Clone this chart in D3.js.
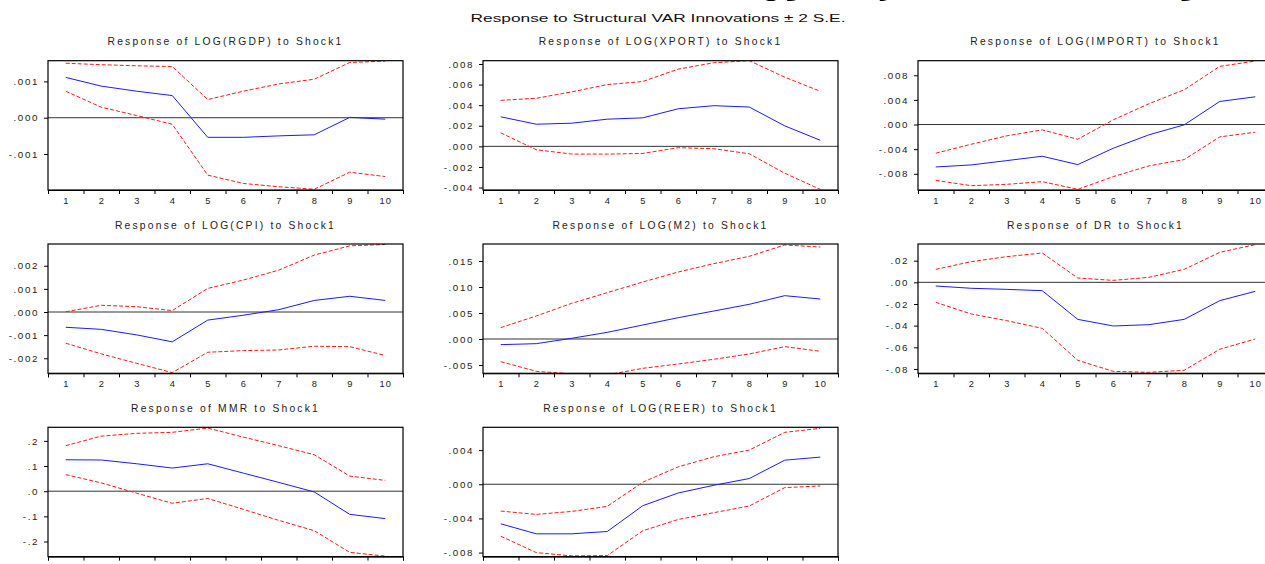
<!DOCTYPE html>
<html><head><meta charset="utf-8">
<script src="https://cdn.jsdelivr.net/npm/d3@7"></script>
<style>
body{margin:0;background:#fff;overflow:hidden}
text{font-family:"Liberation Sans",Arial,sans-serif}
</style>
</head><body><svg id="c" width="1265" height="564"></svg>
<script>
// ---- data ----
const periods = [1,2,3,4,5,6,7,8,9,10];
const periodLabels = ["1","2","3","4","5","6","7","8","9","10"];

const rgdpResp  = [0.00111,0.00087,0.00073,0.00061,-0.00054,-0.00054,-0.00050,-0.00047,0.00001,-0.00004];
const rgdpUpper = [0.00150,0.00146,0.00143,0.00141,0.00050,0.00073,0.00093,0.00106,0.00152,0.00156];
const rgdpLower = [0.00073,0.00029,0.00006,-0.00018,-0.00158,-0.00181,-0.00190,-0.00197,-0.00150,-0.00162];
const rgdpTicks = [0.001,0,-0.001];
const rgdpTickLabels = [".001",".000","-.001"];

const xportResp  = [0.00287,0.00215,0.00225,0.00264,0.00277,0.00365,0.00395,0.00382,0.00199,0.00059];
const xportUpper = [0.00447,0.00467,0.00529,0.00600,0.00630,0.00750,0.00812,0.00832,0.00672,0.00535];
const xportLower = [0.00131,-0.00033,-0.00075,-0.00075,-0.00069,-0.00013,-0.00023,-0.00072,-0.00261,-0.00418];
const xportTicks = [0.008,0.006,0.004,0.002,0,-0.002,-0.004];
const xportTickLabels = [".008",".006",".004",".002",".000","-.002","-.004"];

const importResp  = [-0.00689,-0.00656,-0.00586,-0.00515,-0.00651,-0.00385,-0.00168,-0.00005,0.00374,0.00450];
const importUpper = [-0.00466,-0.00320,-0.00184,-0.00087,-0.00239,0.00076,0.00336,0.00564,0.00944,0.01030];
const importLower = [-0.00906,-0.00993,-0.00971,-0.00927,-0.01052,-0.00846,-0.00672,-0.00569,-0.00201,-0.00125];
const importTicks = [0.008,0.004,0,-0.004,-0.008];
const importTickLabels = [".008",".004",".000","-.004","-.008"];

const cpiResp  = [-0.00066,-0.00075,-0.00099,-0.00129,-0.00035,-0.00014,0.00010,0.00050,0.00068,0.00050];
const cpiUpper = [0.00001,0.00029,0.00023,0.00006,0.00102,0.00138,0.00181,0.00246,0.00286,0.00292];
const cpiLower = [-0.00135,-0.00181,-0.00222,-0.00262,-0.00174,-0.00167,-0.00164,-0.00148,-0.00150,-0.00188];
const cpiTicks = [0.002,0.001,0,-0.001,-0.002];
const cpiTickLabels = [".002",".001",".000","-.001","-.002"];

const m2Resp  = [-0.00109,-0.00090,0.00013,0.00128,0.00269,0.00410,0.00538,0.00667,0.00833,0.00769];
const m2Upper = [0.00218,0.00442,0.00686,0.00891,0.01096,0.01288,0.01449,0.01590,0.01808,0.01769];
const m2Lower = [-0.00436,-0.00622,-0.00670,-0.00690,-0.00564,-0.00481,-0.00391,-0.00288,-0.00147,-0.00237];
const m2Ticks = [0.015,0.010,0.005,0,-0.005];
const m2TickLabels = [".015",".010",".005",".000","-.005"];

const drResp  = [-0.0034,-0.0055,-0.0065,-0.0077,-0.0342,-0.0403,-0.0391,-0.0342,-0.0169,-0.0083];
const drUpper = [0.0120,0.0191,0.0237,0.0271,0.0040,0.0018,0.0046,0.0120,0.0277,0.0348];
const drLower = [-0.0185,-0.0292,-0.0354,-0.0425,-0.0720,-0.0822,-0.0831,-0.0812,-0.0618,-0.0523];
const drTicks = [0.02,0,-0.02,-0.04,-0.06,-0.08];
const drTickLabels = [".02",".00","-.02","-.04","-.06","-.08"];

const mmrResp  = [0.125,0.124,0.109,0.092,0.109,0.072,0.035,-0.003,-0.092,-0.109];
const mmrUpper = [0.181,0.219,0.230,0.234,0.251,0.215,0.181,0.145,0.060,0.043];
const mmrLower = [0.066,0.033,-0.008,-0.048,-0.029,-0.072,-0.116,-0.157,-0.243,-0.258];
const mmrTicks = [0.2,0.1,0,-0.1,-0.2];
const mmrTickLabels = [".2",".1",".0","-.1","-.2"];

const reerResp  = [-0.00463,-0.00580,-0.00580,-0.00553,-0.00251,-0.00102,-0.00012,0.00067,0.00282,0.00318];
const reerUpper = [-0.00314,-0.00353,-0.00318,-0.00259,0.00024,0.00204,0.00322,0.00400,0.00608,0.00655];
const reerLower = [-0.00608,-0.00800,-0.00839,-0.00835,-0.00545,-0.00412,-0.00333,-0.00255,-0.00039,-0.00020];
const reerTicks = [0.004,0,-0.004,-0.008];
const reerTickLabels = [".004",".000","-.004","-.008"];

const titles = [
  "Response of LOG(RGDP) to Shock1","Response of LOG(XPORT) to Shock1","Response of LOG(IMPORT) to Shock1",
  "Response of LOG(CPI) to Shock1","Response of LOG(M2) to Shock1","Response of DR to Shock1",
  "Response of MMR to Shock1","Response of LOG(REER) to Shock1"
];
const yRanges = [
  [-0.00199,0.00157],[-0.00424,0.00832],[-0.01063,0.01036],
  [-0.00265,0.00294],[-0.0066,0.01827],[-0.0840,0.0354],
  [-0.260,0.254],[-0.00847,0.00667]
];
const mainTitle = "Response to Structural VAR Innovations \u00B1 2 S.E.";
const arabicTitle = "الشكل (SVAR) : دوال الاستجابة النبضية لمتغيرات النموذج";

const panels = [
  {resp:rgdpResp, up:rgdpUpper, lo:rgdpLower, ticks:rgdpTicks, labels:rgdpTickLabels},
  {resp:xportResp, up:xportUpper, lo:xportLower, ticks:xportTicks, labels:xportTickLabels},
  {resp:importResp, up:importUpper, lo:importLower, ticks:importTicks, labels:importTickLabels},
  {resp:cpiResp, up:cpiUpper, lo:cpiLower, ticks:cpiTicks, labels:cpiTickLabels},
  {resp:m2Resp, up:m2Upper, lo:m2Lower, ticks:m2Ticks, labels:m2TickLabels},
  {resp:drResp, up:drUpper, lo:drLower, ticks:drTicks, labels:drTickLabels},
  {resp:mmrResp, up:mmrUpper, lo:mmrLower, ticks:mmrTicks, labels:mmrTickLabels},
  {resp:reerResp, up:reerUpper, lo:reerLower, ticks:reerTicks, labels:reerTickLabels}
];

// ---- layout ----
const svg = d3.select("#c");
const W = 355, H = 129.3;
const lefts = [48, 483, 918];
const tops = [60.7, 244, 427.3];

// large title above, cut off by the top edge in the reference (only descenders peek in)
svg.append("text").attr("x", 888).attr("y", -5).attr("text-anchor","middle")
  .attr("font-size", 24).attr("font-weight","bold").attr("fill","#000")
  .attr("textLength", 640).attr("lengthAdjust","spacingAndGlyphs")
  .style("font-family","'DejaVu Sans',sans-serif").text(arabicTitle);

svg.append("text").attr("x", 658).attr("y", 22).attr("text-anchor","middle")
  .attr("font-size", 11.5).attr("fill","#111").attr("textLength", 375).attr("lengthAdjust","spacingAndGlyphs")
  .text(mainTitle);

const periodTicks = d3.range(0.5, 11, 1);

panels.forEach((p, i) => {
  const row = Math.floor(i / 3);
  const x0 = lefts[i % 3], y0 = tops[row];
  const g = svg.append("g").attr("transform", `translate(${x0},${y0})`);
  const x = d3.scaleLinear().domain([0.5, 10.5]).range([0, W]);
  const y = d3.scaleLinear().domain(yRanges[i]).range([H, 0]);

  g.append("text").attr("x", W / 2).attr("y", -15.5).attr("text-anchor","middle")
    .attr("font-size", 10.3).attr("letter-spacing", 2.2).attr("fill","#222").text(titles[i]);

  const cid = "clip" + i;
  g.append("clipPath").attr("id", cid).append("rect").attr("width", W).attr("height", H);
  const plot = g.append("g").attr("clip-path", `url(#${cid})`);

  plot.append("line").attr("x1", 0).attr("x2", W).attr("y1", y(0)).attr("y2", y(0))
    .attr("stroke", "#333").attr("stroke-width", 1);

  const line = d3.line().x((d, j) => x(periods[j])).y(d => y(d));
  plot.append("path").datum(p.up).attr("d", line).attr("fill","none")
    .attr("stroke","#ff1a1a").attr("stroke-width",1).attr("stroke-dasharray","4,2");
  plot.append("path").datum(p.lo).attr("d", line).attr("fill","none")
    .attr("stroke","#ff1a1a").attr("stroke-width",1).attr("stroke-dasharray","4,2");
  plot.append("path").datum(p.resp).attr("d", line).attr("fill","none")
    .attr("stroke","#1a1aff").attr("stroke-width",1);

  g.append("rect").attr("width", W).attr("height", H).attr("fill","none")
    .attr("stroke","#000").attr("stroke-width",1.2);

  // y axis
  const ya = g.append("g").call(d3.axisLeft(y).tickValues(p.ticks)
    .tickFormat((d, j) => p.labels[j]).tickSize(4).tickPadding(5));
  ya.select(".domain").remove();
  ya.selectAll("line").attr("stroke","#000");
  ya.selectAll("text").attr("font-size", 9.8).attr("letter-spacing", 1.6).attr("fill","#222")
    .style("font-family","'Liberation Sans',Arial,sans-serif");

  // x axis ticks at band boundaries
  const xa = g.append("g").attr("transform", `translate(0,${H})`)
    .call(d3.axisBottom(x).tickValues(periodTicks).tickFormat("").tickSize(4));
  xa.select(".domain").attr("stroke","#000");
  xa.selectAll("line").attr("stroke","#000");
  // period labels (the bottom row's labels fall below the picture edge in the reference)
  if (row < 2) {
    const xl = g.append("g").attr("transform", `translate(0,${H})`)
      .call(d3.axisBottom(x).tickValues(periods).tickFormat((d, j) => periodLabels[j]).tickSize(0).tickPadding(7));
    xl.select(".domain").remove();
    xl.selectAll("text").attr("font-size", 9.3).attr("letter-spacing", 1).attr("fill","#222")
      .style("font-family","'Liberation Sans',Arial,sans-serif");
  }
});
</script></body></html>
